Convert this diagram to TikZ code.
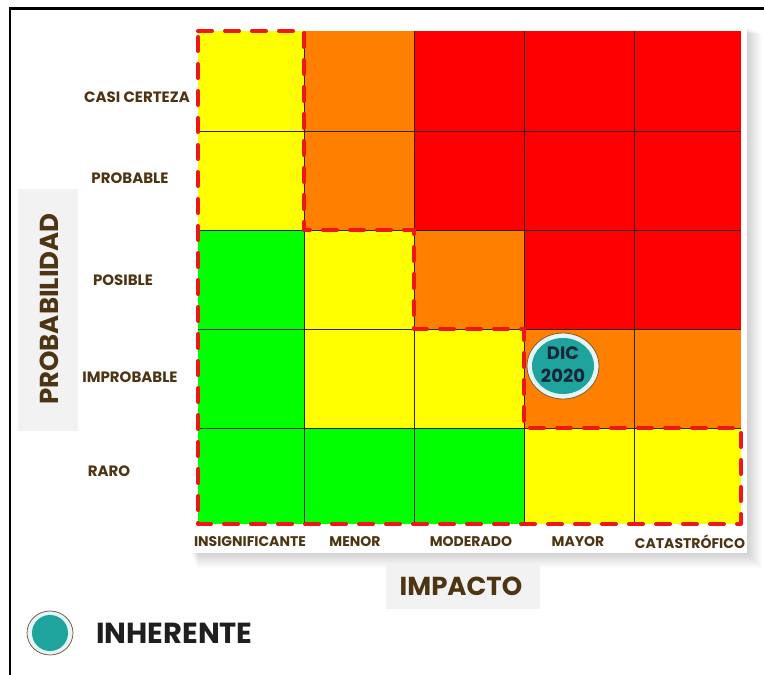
\documentclass[tikz,border=0pt]{standalone}
\usepackage{fontspec}
\setmainfont{Poppins}
\usetikzlibrary{shapes.geometric}
\definecolor{txtbrown}{RGB}{77,52,18}
\definecolor{cyel}{RGB}{255,255,0}
\definecolor{corg}{RGB}{255,128,0}
\definecolor{cred}{RGB}{255,0,0}
\definecolor{cgrn}{RGB}{0,255,0}
\definecolor{dashred}{RGB}{238,22,22}
\definecolor{tealdot}{RGB}{30,163,157}
\definecolor{ringcol}{RGB}{228,246,248}
\definecolor{boxgray}{RGB}{242,242,242}
\definecolor{navytxt}{RGB}{22,38,56}
\tikzset{
  rowlab/.style={text=txtbrown, font=\bfseries\fontsize{15}{15}\selectfont, inner sep=0pt},
  collab/.style={text=txtbrown, font=\bfseries\fontsize{14}{14}\selectfont, inner sep=0pt},
  axistitle/.style={text=txtbrown, font=\bfseries\fontsize{26}{26}\selectfont, inner sep=0pt},
  cellline/.style={draw=black!85, line width=0.7pt},
  riskdash/.style={draw=dashred, line width=4pt, dash pattern=on 14pt off 13pt, line cap=round, line join=round},
}
\begin{document}
\begin{tikzpicture}[x=1pt,y=-1pt]
\useasboundingbox (0,0) rectangle (764,675);
\fill[white] (0,0) rectangle (764,675);
% soft shadow of the pasted chart
\foreach \k in {1,...,16}{
  \fill[black,opacity=0.013] (190+\k*0.5,26+\k*0.5) rectangle (746+\k,552+\k);
}
\fill[white] (186,24) rectangle (747,553);
% outer frame
\draw[black, line width=2.5pt] (10,675) -- (10,8.5) -- (764,8.5);
% cells: row 1
\fill[cyel] (198,31) rectangle (304,131);
\fill[corg] (304,31) rectangle (414,131);
\fill[cred] (414,31) rectangle (741,131);
% row 2
\fill[cyel] (198,131) rectangle (304,230);
\fill[corg] (304,131) rectangle (414,230);
\fill[cred] (414,131) rectangle (741,230);
% row 3
\fill[cgrn] (198,230) rectangle (304,329);
\fill[cyel] (304,230) rectangle (414,329);
\fill[corg] (414,230) rectangle (524,329);
\fill[cred] (524,230) rectangle (741,329);
% row 4
\fill[cgrn] (198,329) rectangle (304,428);
\fill[cyel] (304,329) rectangle (524,428);
\fill[corg] (524,329) rectangle (741,428);
% row 5
\fill[cgrn] (198,428) rectangle (524,524);
\fill[cyel] (524,428) rectangle (741,524);
% grid lines
\foreach \x in {304,414,524,634}{ \draw[cellline] (\x,31) -- (\x,524); }
\foreach \y in {131,230,329,428}{ \draw[cellline] (198,\y) -- (741,\y); }
% dashed risk zone
\draw[riskdash] (198,31) -- (304,31) -- (304,230) -- (414,230) -- (414,329) -- (524,329) -- (524,428) -- (741,428) -- (741,524) -- (198,524) -- cycle;
% row labels
\node[rowlab] (casi) at (137,97) {CASI CERTEZA};
\node[rowlab] (prob) at (130,178) {PROBABLE};
\node[rowlab] (posi) at (123,280) {POSIBLE};
\node[rowlab] (impr) at (130,377) {IMPROBABLE};
\node[rowlab] (raro) at (109,471) {RARO};
% column labels
\node[collab] (insig) at (250,542) {INSIGNIFICANTE};
\node[collab] (menor) at (355,542) {MENOR};
\node[collab] (moder) at (471,542) {MODERADO};
\node[collab] (mayor) at (578,542) {MAYOR};
\node[collab] (catas) at (690,542) {CATASTRÓFICO};
% axis titles
\fill[boxgray] (18,189) rectangle (78,431);
\node[axistitle, rotate=90] (probab) at (49,309) {PROBABILIDAD};
\fill[boxgray] (386,563) rectangle (540,609);
\node[axistitle] (impac) at (461,586) {IMPACTO};
% DIC 2020 marker
\draw[draw=brown!70!black, line width=0.8pt, fill=ringcol] (563,366) ellipse [x radius=36, y radius=33];
\fill[tealdot] (563,366) ellipse [x radius=31, y radius=28];
\node[text=navytxt, font=\bfseries\fontsize{18}{23}\selectfont, align=center, inner sep=0pt] (dic) at (563,365) {DIC\\2020};
% legend
\draw[draw=brown!60!black, line width=0.7pt, fill=ringcol] (50,633) ellipse [x radius=23, y radius=22];
\fill[tealdot] (50,633) circle [radius=18];
\node[text=black!88, font=\bfseries\fontsize{29}{29}\selectfont, anchor=west, inner sep=0pt] (inh) at (96,633) {INHERENTE};
\end{tikzpicture}
\end{document}
